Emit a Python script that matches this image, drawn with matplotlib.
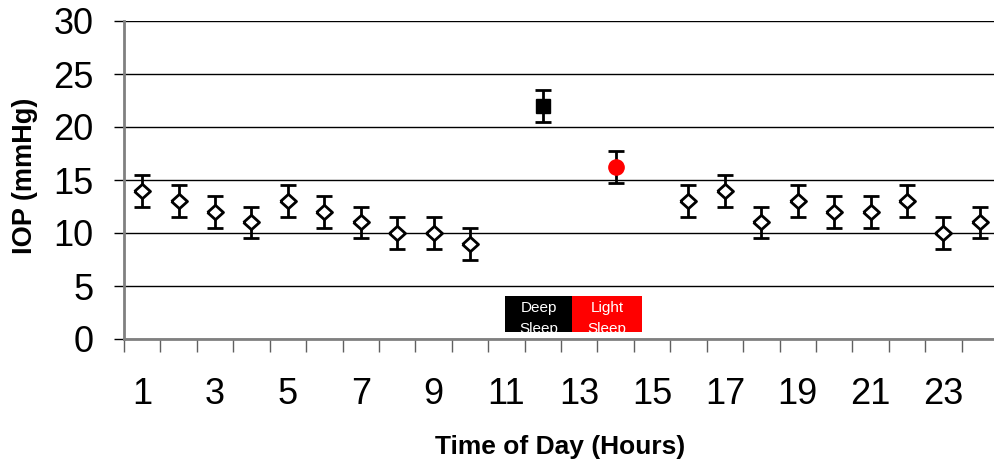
import matplotlib
matplotlib.use("Agg")
import matplotlib.pyplot as plt
from matplotlib.patches import Rectangle
import numpy as np

plt.rcParams['font.family'] = ['Liberation Sans', 'DejaVu Sans']

# awake hours (open diamonds)
hours = [1, 2, 3, 4, 5, 6, 7, 8, 9, 10, 16, 17, 18, 19, 20, 21, 22, 23, 24]
iop = [14, 13, 12, 11, 13, 12, 11, 10, 10, 9, 13, 14, 11, 13, 12, 12, 13, 10, 11]
err = 1.5

deep_hour, deep_iop = 12, 22
light_hour, light_iop = 14, 16.2

tick_labels = [str(h) for h in range(1, 24, 2)]

fig = plt.figure(figsize=(9.95, 4.68), dpi=100)
ax = fig.add_axes([124 / 995, 1 - 339 / 468, 874 / 995, 318 / 468])

# slightly squat diamond like the original
diamond = [(-1, 0), (0, 0.9), (1, 0), (0, -0.9), (-1, 0)]

# category centres at h - 0.5
x = np.array(hours) - 0.5
kw = dict(ecolor='black', elinewidth=2, capsize=6, capthick=2, zorder=3)
ax.errorbar(x, iop, yerr=err, fmt='none', **kw)
ax.plot(x, iop, ls='none', marker=diamond, mfc='white', mec='black', mew=2, ms=11.5, zorder=4)
ax.errorbar([deep_hour - 0.5], [deep_iop], yerr=err, fmt='s', mfc='black', mec='black',
            ms=10, **kw)
ax.errorbar([light_hour - 0.5], [light_iop], yerr=err, fmt='o', mfc='red', mec='red',
            ms=11, **kw)

ax.set_xlim(0, 24)
ax.set_ylim(0, 30)
ax.set_yticks(range(0, 31, 5))
ax.yaxis.grid(True, color='black', lw=1)
ax.set_axisbelow(True)
ax.tick_params(axis='y', direction='out', length=7, width=1, color='black',
               labelsize=26, pad=15)

ax.set_xticks(np.arange(1, 24, 2) - 0.5)
ax.set_xticklabels(tick_labels)
ax.set_xticks(range(0, 25), minor=True)
ax.tick_params(axis='x', which='major', length=0, labelsize=26, pad=27)
ax.tick_params(axis='x', which='minor', direction='out', length=9, width=1, color='#606060')

for s in ['top', 'right']:
    ax.spines[s].set_visible(False)
for s in ['left', 'bottom']:
    ax.spines[s].set_color('#808080')
    ax.spines[s].set_linewidth(2)

# sleep stage boxes
for x0, w, col, label in [(10.47, 1.84, 'black', 'Deep\nSleep'),
                          (12.31, 1.92, 'red', 'Light\nSleep')]:
    r = Rectangle((x0, 0.66), w, 3.4, facecolor=col, edgecolor='none', zorder=2)
    ax.add_patch(r)
    t = ax.text(x0 + w / 2, 3.55, label, color='white', ha='center', va='top',
                fontsize=11, linespacing=1.6, zorder=4)
    t.set_clip_path(r)

fig.text(25 / 995, 1 - 176 / 468, 'IOP (mmHg)', rotation=90, ha='center', va='center',
         fontsize=19.5, fontweight='bold')
fig.text(560 / 995, 1 - 447 / 468, 'Time of Day (Hours)', ha='center', va='center',
         fontsize=19, fontweight='bold')

fig.savefig('out.png', dpi=100)
